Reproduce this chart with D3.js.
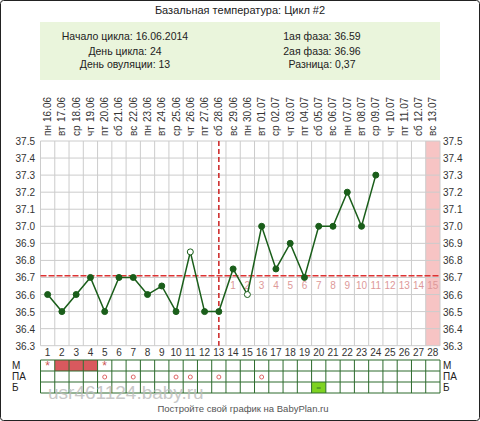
<!DOCTYPE html><html><head><meta charset="utf-8"><script src="https://cdn.jsdelivr.net/npm/d3@7"></script>
<style>body{margin:0;background:#fff}</style></head><body><svg id="c" width="480" height="421"></svg><script>
const days=d3.range(1,29);
const dates=["16.06","17.06","18.06","19.06","20.06","21.06","22.06","23.06","24.06","25.06","26.06","27.06","28.06","29.06","30.06","01.07","02.07","03.07","04.07","05.07","06.07","07.07","08.07","09.07","10.07","11.07","12.07","13.07"];
const weekdays=["пн","вт","ср","чт","пт","сб","вс","пн","вт","ср","чт","пт","сб","вс","пн","вт","ср","чт","пт","сб","вс","пн","вт","ср","чт","пт","сб","вс"];
const temps=[36.6,36.5,36.6,36.7,36.5,36.7,36.7,36.6,36.65,36.5,36.85,36.5,36.5,36.75,36.6,37.0,36.75,36.9,36.7,37.0,37.0,37.2,37.0,37.3];
const openPts=[11,15];
const yTicks=[36.3,36.4,36.5,36.6,36.7,36.8,36.9,37.0,37.1,37.2,37.3,37.4,37.5];
const coverline=36.71, ovDay=13;
const menses=[2,3,4], mStars=[1,5], paDays=[5,7,10,11,13,16], bDays=[20];
const rows=["М","ПА","Б"];
const svg=d3.select("#c"), F="Arial, Liberation Sans, sans-serif";
svg.append("rect").attr("x",0.5).attr("y",0.5).attr("width",479).attr("height",420).attr("fill","#fff").attr("stroke","#222").attr("rx",3);
const x=d3.scaleBand().domain(days).range([40.5,440]);
const y=d3.scaleLinear().domain([36.3,37.5]).range([345.7,141]);
const cx=d=>x(d)+x.bandwidth()/2;
svg.append("text").attr("x",240).attr("y",14).attr("text-anchor","middle").attr("font-family",F).attr("font-size",11).attr("fill","#222").text("Базальная температура: Цикл #2");
svg.append("rect").attr("x",40).attr("y",22).attr("width",400).attr("height",58).attr("fill","#eaf5dc");
["Начало цикла: 16.06.2014","День цикла: 24","День овуляции: 13"].forEach((t,i)=>svg.append("text").attr("x",125).attr("y",[40,55,68][i]).attr("text-anchor","middle").attr("font-family",F).attr("font-size",10.5).attr("fill","#222").text(t));
["1ая фаза: 36.59","2ая фаза: 36.96","Разница: 0,37"].forEach((t,i)=>svg.append("text").attr("x",322).attr("y",[40,55,68][i]).attr("text-anchor","middle").attr("font-family",F).attr("font-size",10.5).attr("fill","#222").text(t));
days.forEach((d,i)=>{
 svg.append("text").attr("transform",`translate(${cx(d)+3.5},136) rotate(-90)`).attr("font-family",F).attr("font-size",10).attr("fill","#333").text(weekdays[i]);
 svg.append("text").attr("transform",`translate(${cx(d)+3.5},122) rotate(-90)`).attr("font-family",F).attr("font-size",10).attr("fill","#333").text(dates[i]);});
svg.append("rect").attr("x",x(28)).attr("y",y(37.5)).attr("width",x.bandwidth()).attr("height",y(36.3)-y(37.5)).attr("fill","#f7c4c4");
const g=svg.append("g");
days.forEach(d=>g.append("line").attr("x1",x(d)).attr("x2",x(d)).attr("y1",y(37.5)).attr("y2",y(36.3)).attr("stroke","#ccc"));
g.append("line").attr("x1",440).attr("x2",440).attr("y1",y(37.5)).attr("y2",y(36.3)).attr("stroke","#ccc");
yTicks.forEach(t=>{g.append("line").attr("x1",40.5).attr("x2",440).attr("y1",y(t)).attr("y2",y(t)).attr("stroke","#ccc");
["start","end"].forEach((a,i)=>svg.append("text").attr("x",i?35:443).attr("y",y(t)+4).attr("text-anchor",a).attr("font-family",F).attr("font-size",10).attr("fill","#333").text(t.toFixed(1)));});
days.forEach(d=>svg.append("text").attr("x",cx(d)).attr("y",356).attr("text-anchor","middle").attr("font-family",F).attr("font-size",10).attr("fill","#333").text(d));
days.filter(d=>d>ovDay).forEach(d=>svg.append("text").attr("x",cx(d)).attr("y",289).attr("text-anchor","middle").attr("font-family",F).attr("font-size",10).attr("fill","#d99").text(d-ovDay));
svg.append("line").attr("x1",40.5).attr("x2",440).attr("y1",y(coverline)).attr("y2",y(coverline)).attr("stroke","#d33").attr("stroke-width",1.5).attr("stroke-dasharray","6,2");
svg.append("line").attr("x1",cx(ovDay)).attr("x2",cx(ovDay)).attr("y1",y(37.5)).attr("y2",y(36.3)).attr("stroke","#c22").attr("stroke-width",1.5).attr("stroke-dasharray","5,3");
svg.append("path").datum(temps).attr("d",d3.line().x((v,i)=>cx(i+1)).y(v=>y(v))).attr("fill","none").attr("stroke","#1a5e1a").attr("stroke-width",1.5);
temps.forEach((v,i)=>{const o=openPts.includes(i+1);svg.append("circle").attr("cx",cx(i+1)).attr("cy",y(v)).attr("r",3).attr("fill",o?"#fff":"#1a5e1a").attr("stroke","#1a5e1a");});
const ry=[360,371,382,393];
menses.forEach(d=>svg.append("rect").attr("x",x(d)).attr("y",ry[0]).attr("width",x.bandwidth()).attr("height",11).attr("fill","#d9595e"));
bDays.forEach(d=>svg.append("rect").attr("x",x(d)).attr("y",ry[2]).attr("width",x.bandwidth()).attr("height",11).attr("fill","#7ed321"));
ry.forEach(yy=>svg.append("line").attr("x1",40.5).attr("x2",440).attr("y1",yy).attr("y2",yy).attr("stroke","#2d6b2d"));
days.concat([29]).forEach(d=>{const xx=d==29?440:x(d);svg.append("line").attr("x1",xx).attr("x2",xx).attr("y1",360).attr("y2",393).attr("stroke","#2d6b2d");});
mStars.forEach(d=>svg.append("text").attr("x",cx(d)).attr("y",370).attr("text-anchor","middle").attr("font-family",F).attr("font-size",12).attr("fill","#c55").text("*"));
paDays.forEach(d=>svg.append("circle").attr("cx",cx(d)).attr("cy",377).attr("r",2).attr("fill","none").attr("stroke","#d66"));
bDays.forEach(d=>svg.append("line").attr("x1",cx(d)-2).attr("x2",cx(d)+2).attr("y1",388).attr("y2",388).attr("stroke","#2d6b2d"));
rows.forEach((r,i)=>{svg.append("text").attr("x",12).attr("y",ry[i]+9).attr("font-family",F).attr("font-size",10).attr("fill","#222").text(r);svg.append("text").attr("x",443).attr("y",ry[i]+9).attr("font-family",F).attr("font-size",10).attr("fill","#222").text(r);});
svg.append("text").attr("x",48).attr("y",399).attr("font-family",F).attr("font-size",19).attr("fill","#bbb").attr("opacity",0.8).text("usr461124.baby.ru");
svg.append("text").attr("x",243).attr("y",412).attr("text-anchor","middle").attr("font-family",F).attr("font-size",9.5).attr("fill","#555").text("Постройте свой график на BabyPlan.ru");
</script></body></html>
